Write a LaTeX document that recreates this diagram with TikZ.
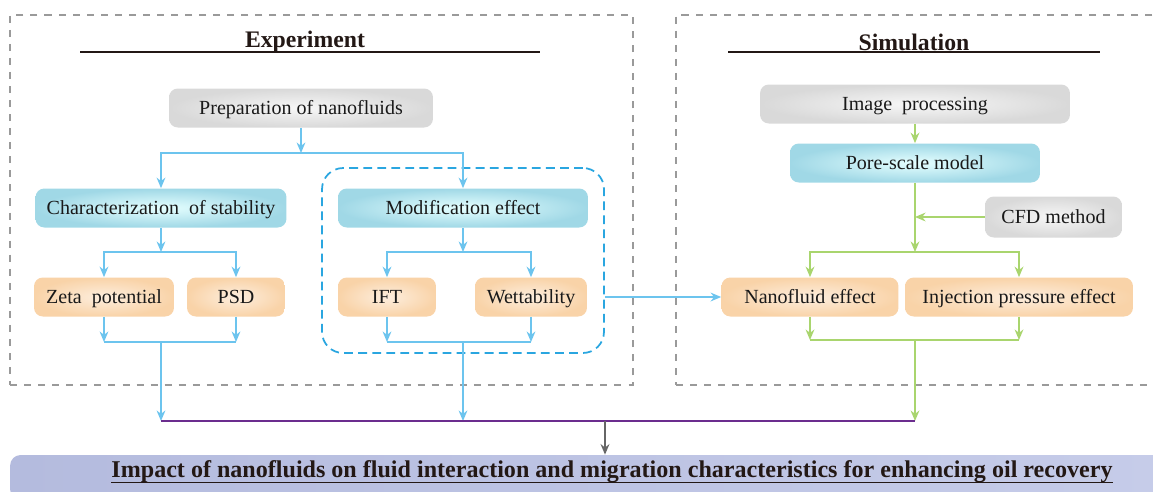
\documentclass[tikz,border=0pt]{standalone}
\usepackage{fontspec}
\setmainfont{Liberation Serif}
\usetikzlibrary{arrows.meta, calc}

\definecolor{linkblue}{HTML}{6CC4EE}
\definecolor{linkgreen}{HTML}{A9D56E}
\definecolor{mergepurple}{HTML}{6B2D8E}
\definecolor{framegray}{HTML}{9A9A9A}
\definecolor{groupblue}{HTML}{2AA6E0}
\definecolor{titleink}{HTML}{231815}

\begin{document}
\begin{tikzpicture}[x=0.02cm, y=-0.02cm, >={Stealth[length=6pt,width=5pt]},
	stagebox/.style={rounded corners=5pt, minimum height=0.78cm, inner sep=0pt,
		text height=1.55ex, text depth=0pt,
		font=\fontsize{11.4}{13}\selectfont, text=black!90},
	graybox/.style={stagebox, shade, inner color=black!3, outer color=black!15},
	cyanbox/.style={stagebox, shade, inner color=cyan!10!white, outer color={rgb,255:red,160;green,216;blue,230}},
	peachbox/.style={stagebox, shade, inner color={rgb,255:red,253;green,238;blue,222}, outer color={rgb,255:red,249;green,211;blue,168}},
	blueflow/.style={draw=linkblue, line width=0.9pt},
	greenflow/.style={draw=linkgreen, line width=0.9pt},
	framebox/.style={draw=framegray, dashed, dash pattern=on 4pt off 4pt, line width=0.7pt, inner sep=0pt},
	sectitle/.style={font=\fontsize{13.5}{15}\selectfont\bfseries, text=titleink}]
	\useasboundingbox (0,0) rectangle (1153,491);

	% Frames of the two parts
	\node[framebox, minimum width=12.46cm, minimum height=7.4cm] (expframe) at (321.5,200) {};
	\node[framebox, minimum width=9.78cm, minimum height=7.4cm] (simframe) at (920.5,200) {};

	% Titles with underline
	\node[sectitle] (exptitle) at (305,42) {Experiment};
	\draw[titleink, line width=1.1pt] (80,52) -- (540,52);
	\node[sectitle] (simtitle) at (914,42) {Simulation};
	\draw[titleink, line width=1.1pt] (728,52) -- (1100,52);

	% Experiment: nodes
	\node[graybox, minimum width=5.28cm] (prep) at (301,108) {Preparation of nanofluids};
	\node[cyanbox, minimum width=5.02cm] (charstab) at (161,208) {Characterization\ \ of stability};
	\node[cyanbox, minimum width=5.0cm] (modif) at (463,208) {Modification effect};
	\node[peachbox, minimum width=2.8cm] (zeta) at (104,297) {Zeta\ \ potential};
	\node[peachbox, minimum width=1.96cm] (psd) at (236,297) {PSD};
	\node[peachbox, minimum width=1.96cm] (ift) at (387,297) {IFT};
	\node[peachbox, minimum width=2.24cm] (wett) at (531,297) {Wettability};
	\node[draw=groupblue, dashed, dash pattern=on 5pt off 3pt, line width=1pt, rounded corners=12pt,
		minimum width=5.64cm, minimum height=3.7cm] (modgroup) at (463,260.5) {};

	% Simulation: nodes
	\node[graybox, minimum width=6.2cm] (imgproc) at (915,104) {Image\ \ processing};
	\node[cyanbox, minimum width=5.0cm] (pore) at (915,163) {Pore-scale model};
	\node[graybox, minimum width=2.74cm, minimum height=0.82cm] (cfd) at (1053.5,217) {CFD method};
	\node[peachbox, minimum width=3.54cm] (nano) at (810,297) {Nanofluid effect};
	\node[peachbox, minimum width=4.56cm] (inject) at (1019,297) {Injection pressure effect};

	% Result banner
	\node[shade, left color={rgb,255:red,180;green,187;blue,222}, right color={rgb,255:red,198;green,204;blue,233},
		rounded corners=6pt, minimum width=23.1cm, minimum height=0.9cm, inner sep=0pt] (banner) at (587.5,477.5) {};
	\node[font=\fontsize{13.7}{15}\selectfont\bfseries, text=titleink, inner sep=0pt] (impact) at (612,472)
		{Impact of nanofluids on fluid interaction and migration characteristics for enhancing oil recovery};
	\draw[titleink, line width=0.8pt] ([yshift=-2.5pt]impact.base west) -- ([yshift=-2.5pt]impact.base east);

	% Branch and merge points
	\coordinate (sp1) at (301,153);
	\coordinate (sp2) at (161,252);
	\coordinate (sp3) at (463,252);
	\coordinate (sp4) at (915,252);
	\coordinate (mg1) at (161,342);
	\coordinate (mg2) at (463,342);
	\coordinate (mg3) at (915,340);
	\coordinate (jn1) at (161,421);
	\coordinate (jn2) at (463,421);
	\coordinate (jn3) at (915,421);
	\coordinate (jnout) at (605,421);

	% Blue arrows (experiment)
	\draw[blueflow, ->] (prep.south) -- (sp1);
	\draw[blueflow, ->] (sp1) -| (charstab.north);
	\draw[blueflow, ->] (sp1) -| (modif.north);
	\draw[blueflow, ->] (charstab.south) -- (sp2);
	\draw[blueflow, ->] (sp2) -| (zeta.north);
	\draw[blueflow, ->] (sp2) -| (psd.north);
	\draw[blueflow, ->] (modif.south) -- (sp3);
	\draw[blueflow, ->] (sp3) -| (ift.north);
	\draw[blueflow, ->] (sp3) -| (wett.north);
	\draw[blueflow, ->] (zeta.south) -- (zeta.south |- mg1);
	\draw[blueflow, ->] (psd.south) -- (psd.south |- mg1);
	\draw[blueflow] (zeta.south |- mg1) -- (psd.south |- mg1);
	\draw[blueflow, ->] (ift.south) -- (ift.south |- mg2);
	\draw[blueflow, ->] (wett.south) -- (wett.south |- mg2);
	\draw[blueflow] (ift.south |- mg2) -- (wett.south |- mg2);
	\draw[blueflow, ->] (mg1) -- (jn1);
	\draw[blueflow, ->] (mg2) -- (jn2);
	\draw[blueflow, ->] (modgroup.east |- nano.west) -- (nano.west);

	% Green arrows (simulation)
	\draw[greenflow, ->] (imgproc.south) -- (pore.north);
	\draw[greenflow, ->] (pore.south) -- (sp4);
	\draw[greenflow, ->] (cfd.west) -- (cfd.west -| pore.south);
	\draw[greenflow, ->] (sp4) -| (nano.north);
	\draw[greenflow, ->] (sp4) -| (inject.north);
	\draw[greenflow, ->] (nano.south) -- (nano.south |- mg3);
	\draw[greenflow, ->] (inject.south) -- (inject.south |- mg3);
	\draw[greenflow] (nano.south |- mg3) -- (inject.south |- mg3);
	\draw[greenflow, ->] (mg3) -- (jn3);

	% Merge line and final arrow
	\draw[mergepurple, line width=1.1pt] (jn1) -- (jn3);
	\draw[black!60, line width=1.1pt, ->] (jnout) -- (jnout |- banner.north);
\end{tikzpicture}
\end{document}
